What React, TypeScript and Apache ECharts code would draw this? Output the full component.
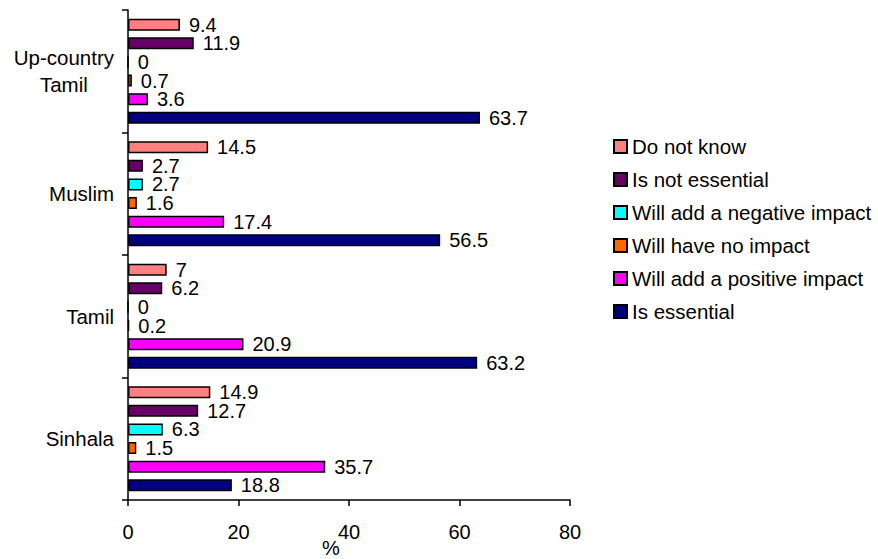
import React, { useEffect, useRef } from "react";
import * as echarts from "echarts";

const categories = ["Sinhala", "Tamil", "Muslim", "Up-country\nTamil"];
const seriesNames = [
  "Do not know",
  "Is not essential",
  "Will add a negative impact",
  "Will have no impact",
  "Will add a positive impact",
  "Is essential",
];
const doNotKnow = [14.9, 7, 14.5, 9.4];
const notEssential = [12.7, 6.2, 2.7, 11.9];
const negativeImpact = [6.3, 0, 2.7, 0];
const noImpact = [1.5, 0.2, 1.6, 0.7];
const positiveImpact = [35.7, 20.9, 17.4, 3.6];
const isEssential = [18.8, 63.2, 56.5, 63.7];
const xTicks = [0, 20, 40, 60, 80];
const colors = ["#FF8080", "#660066", "#00FFFF", "#FF6600", "#FF00FF", "#000080"];

export default function App() {
  const ref = useRef<HTMLDivElement>(null);
  useEffect(() => {
    if (!ref.current) return;
    const chart = echarts.init(ref.current, null, { renderer: "svg" });
    const dataSets = [doNotKnow, notEssential, negativeImpact, noImpact, positiveImpact, isEssential];
    const font = "'Liberation Sans', Arial, sans-serif";
    chart.setOption({
      animation: false,
      textStyle: { fontFamily: font, color: "#000" },
      grid: { left: 128, right: 308, top: 10, bottom: 59 },
      legend: {
        orient: "vertical",
        left: 608,
        top: 131,
        itemWidth: 13,
        itemHeight: 13,
        itemGap: 12,
        data: seriesNames,
        textStyle: { fontFamily: font, fontSize: 20.5, color: "#000" },
        icon: "rect",
      },
      xAxis: {
        type: "value",
        min: xTicks[0],
        max: xTicks[xTicks.length - 1],
        interval: 20,
        splitLine: { show: false },
        axisLine: { show: true, lineStyle: { color: "#000", width: 1.5 } },
        axisTick: { show: true, length: 6, lineStyle: { color: "#000", width: 1.5 } },
        axisLabel: { fontSize: 20, color: "#000", margin: 22, fontFamily: font },
      },
      yAxis: {
        type: "category",
        data: categories,
        axisLine: { show: true, lineStyle: { color: "#000", width: 1.5 } },
        axisTick: { show: true, length: 6, lineStyle: { color: "#000", width: 1.5 } },
        axisLabel: {
          fontSize: 20,
          color: "#000",
          margin: 14,
          fontFamily: font,
          lineHeight: 27,
          formatter: (v: string) =>
            v
              .split("\n")
              .map((s) => "{c|" + s + "}")
              .join("\n"),
          rich: { c: { align: "center", fontSize: 20.5, fontFamily: font, color: "#000", lineHeight: 27 } },
        },
      },
      graphic: [
        {
          type: "text",
          x: 331,
          y: 548,
          style: { text: "%", fontSize: 20, fontFamily: font, fill: "#000", align: "center", verticalAlign: "middle" },
        },
      ],
      series: seriesNames.map((name, i) => ({
        name,
        type: "bar",
        data: dataSets[i],
        barWidth: 12,
        barGap: "55%",
        itemStyle: { color: colors[i], borderColor: "#000", borderWidth: 1.5 },
        label: {
          show: true,
          position: "right",
          distance: 9,
          fontSize: 20,
          color: "#000",
          fontFamily: font,
        },
      })),
    });
    return () => chart.dispose();
  }, []);
  return <div ref={ref} style={{ width: 878, height: 559, position: "absolute", left: 0, top: 0 }} />;
}
